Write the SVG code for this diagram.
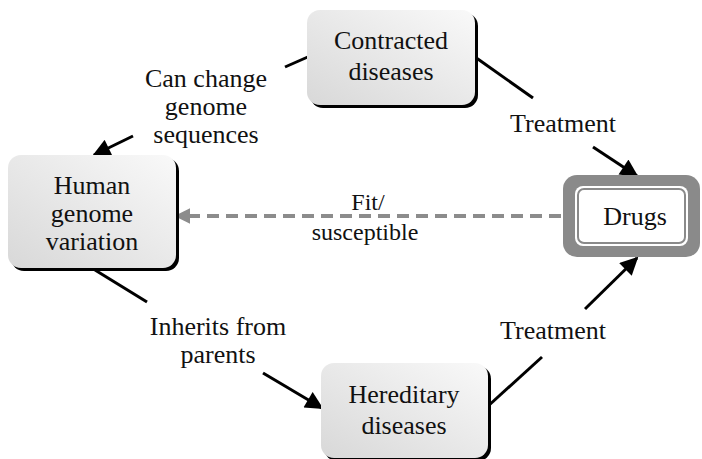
<svg xmlns="http://www.w3.org/2000/svg" width="702" height="459" viewBox="0 0 702 459" font-family="'Liberation Serif', 'Times New Roman', 'DejaVu Serif', serif">
<style>
text{font-family:'Liberation Serif','Times New Roman','DejaVu Serif',serif;font-size:26px;fill:#111;text-anchor:middle}
.lbl{font-size:26px}
.mid{font-size:24px}
.shadow{fill:#000}
.box{fill:url(#g)}
.conn{stroke:#000;stroke-width:3;fill:none}
.dash{stroke:#8c8c8c;stroke-width:4;stroke-dasharray:12 7;fill:none}
</style>
<defs>
<linearGradient id="g" x1="1" y1="0" x2="0" y2="1">
<stop offset="0" stop-color="#f9f9f9"/>
<stop offset="1" stop-color="#d8d8d8"/>
</linearGradient>
<marker id="ah" viewBox="0 0 10 10" refX="9" refY="5" markerWidth="6.5" markerHeight="6" markerUnits="strokeWidth" orient="auto">
<path d="M0,0 L10,5 L0,10 z" fill="#000"/>
</marker>
<marker id="ag" viewBox="0 0 10 10" refX="9" refY="5" markerWidth="4" markerHeight="4.5" markerUnits="strokeWidth" orient="auto">
<path d="M0,0 L10,5 L0,10 z" fill="#8c8c8c"/>
</marker>
</defs>

<g id="connectors">
<line class="conn" x1="310" y1="56" x2="285" y2="67"/>
<line class="conn" x1="133" y1="136" x2="94" y2="155" marker-end="url(#ah)"/>
<line class="conn" x1="475" y1="57" x2="533" y2="98"/>
<line class="conn" x1="593" y1="147" x2="637" y2="176" marker-end="url(#ah)"/>
<line class="conn" x1="95" y1="270" x2="147" y2="302"/>
<line class="conn" x1="263" y1="373" x2="322" y2="408" marker-end="url(#ah)"/>
<line class="conn" x1="487" y1="407" x2="542" y2="357"/>
<line class="conn" x1="585" y1="309" x2="637" y2="258" marker-end="url(#ah)"/>
<line class="dash" x1="561" y1="216" x2="176" y2="216" marker-end="url(#ag)"/>
</g>

<g id="contracted">
<rect class="shadow" x="310" y="13" width="168" height="95" rx="13"/>
<rect class="box" x="307" y="10" width="168" height="95" rx="13"/>
<text x="391" y="49">Contracted</text>
<text x="391" y="80">diseases</text>
</g>

<g id="human">
<rect class="shadow" x="11" y="158" width="168" height="113" rx="13"/>
<rect class="box" x="8" y="155" width="168" height="113" rx="13"/>
<text x="92" y="194">Human</text>
<text x="92" y="222">genome</text>
<text x="92" y="250">variation</text>
</g>

<g id="hereditary">
<rect class="shadow" x="324" y="366" width="167" height="95" rx="13"/>
<rect class="box" x="321" y="363" width="167" height="95" rx="13"/>
<text x="404" y="403">Hereditary</text>
<text x="404" y="434">diseases</text>
</g>

<g id="drugs">
<rect x="563" y="175" width="137" height="82" rx="14" fill="#8a8a8a"/>
<rect x="575" y="186" width="113" height="60" rx="8" fill="#fff"/>
<rect x="578" y="189" width="107" height="54" rx="6" fill="#fff" stroke="#8a8a8a" stroke-width="2"/>
<text x="635" y="225">Drugs</text>
</g>

<g id="labels">
<text class="lbl" x="206" y="87">Can change</text>
<text class="lbl" x="206" y="115">genome</text>
<text class="lbl" x="206" y="143">sequences</text>
<text class="lbl" x="563" y="132">Treatment</text>
<text class="mid" x="368" y="210">Fit/</text>
<text class="mid" x="365" y="240">susceptible</text>
<text class="lbl" x="218" y="335">Inherits from</text>
<text class="lbl" x="218" y="363">parents</text>
<text class="lbl" x="553" y="339">Treatment</text>
</g>
</svg>
